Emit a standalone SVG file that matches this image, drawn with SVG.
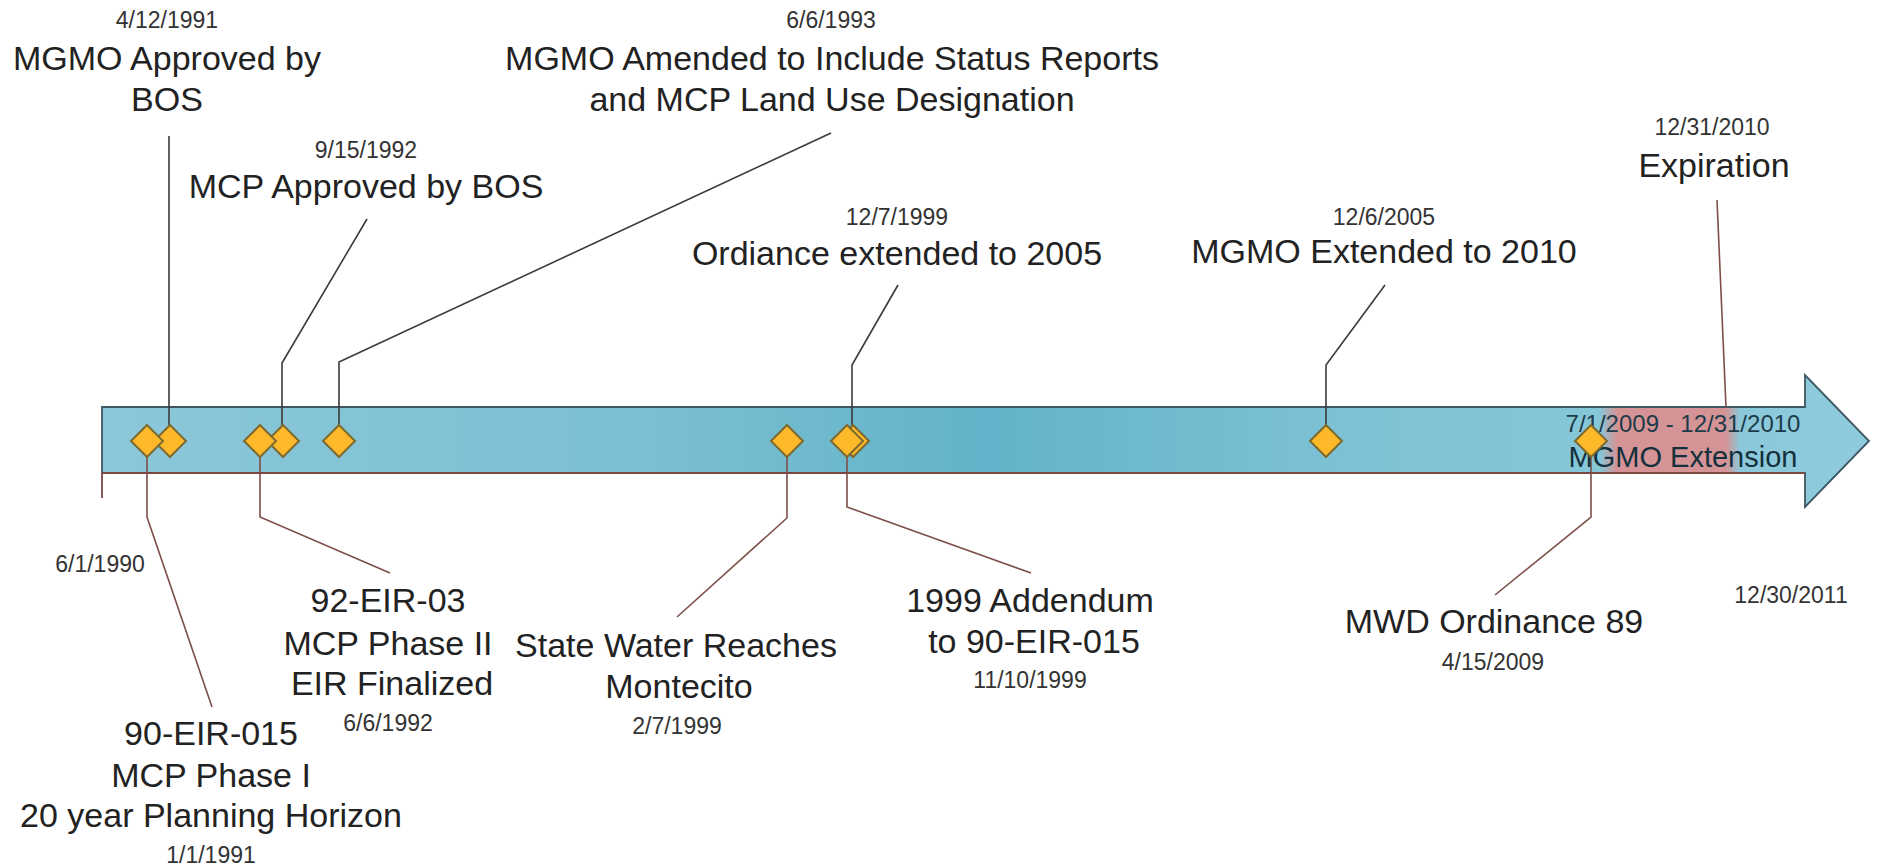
<svg xmlns="http://www.w3.org/2000/svg" width="1879" height="867" viewBox="0 0 1879 867">
<defs>
<linearGradient id="barGrad" gradientUnits="userSpaceOnUse" x1="102" y1="0" x2="1869" y2="0">
<stop offset="0" stop-color="#8bc8d9"/>
<stop offset="0.3" stop-color="#7cc0d3"/>
<stop offset="0.5" stop-color="#62b3c9"/>
<stop offset="0.7" stop-color="#7dc2d4"/>
<stop offset="1" stop-color="#8fcbdc"/>
</linearGradient>
<linearGradient id="redGrad" gradientUnits="userSpaceOnUse" x1="1600" y1="0" x2="1740" y2="0">
<stop offset="0" stop-color="#e28a8a" stop-opacity="0"/>
<stop offset="0.12" stop-color="#e28a8a" stop-opacity="0.85"/>
<stop offset="0.9" stop-color="#e28a8a" stop-opacity="0.85"/>
<stop offset="1" stop-color="#e28a8a" stop-opacity="0"/>
</linearGradient>
<style>
.lbl{font-family:"Liberation Sans",Arial,sans-serif;font-size:34px;fill:#222;text-anchor:middle}
.dt{font-family:"Liberation Sans",Arial,sans-serif;font-size:23px;fill:#333;text-anchor:middle}
.top{fill:none;stroke:#3a3a3a;stroke-width:1.6}
.bot{fill:none;stroke:#7d4f48;stroke-width:1.6}
.dia{fill:#fdb92a;stroke:#7d6a30;stroke-width:2}
</style>
</defs>
<rect width="1879" height="867" fill="#ffffff"/>

<g id="timeline-arrow">
<path d="M102,407 L1805,407 L1805,375 L1869,441 L1805,507 L1805,473 L102,473 Z" fill="url(#barGrad)" stroke="#3d5662" stroke-width="1.8"/>
<rect x="1600" y="408" width="140" height="64" fill="url(#redGrad)"/>
<line x1="102" y1="473" x2="1805" y2="473" stroke="#7a4a40" stroke-width="1.8"/>
<line x1="102" y1="473" x2="102" y2="498" stroke="#7a4a40" stroke-width="1.8"/>
</g>

<g id="connectors">
<polyline class="top" points="169,136 169,425"/>
<polyline class="top" points="282,425 282,363 367,219"/>
<polyline class="top" points="339,425 339,362 831,133"/>
<polyline class="top" points="852,425 852,365 898,285"/>
<polyline class="top" points="1326,425 1326,365 1385,285"/>
<polyline class="bot" points="1726,407 1717,200"/>
<polyline class="bot" points="147,457 147,517 212,707"/>
<polyline class="bot" points="260,457 260,517 390,573"/>
<polyline class="bot" points="787,457 787,518 677,617"/>
<polyline class="bot" points="847,457 847,507 1031,573"/>
<polyline class="bot" points="1591,457 1591,517 1495,595"/>
</g>

<g id="extension-period">
<text class="dt" x="1683" y="432" style="font-size:24px;fill:#1e3b4a">7/1/2009 - 12/31/2010</text>
<text class="lbl" x="1683" y="467" style="font-size:29px;fill:#14303c">MGMO Extension</text>
</g>

<g id="event-1991-04-12"><path class="dia" d="M170,425 L186,441 L170,457 L154,441 Z"/></g>
<g id="event-1991-01-01"><path class="dia" d="M147,425 L163,441 L147,457 L131,441 Z"/></g>
<g id="event-1992-09-15"><path class="dia" d="M283,425 L299,441 L283,457 L267,441 Z"/></g>
<g id="event-1992-06-06"><path class="dia" d="M260,425 L276,441 L260,457 L244,441 Z"/></g>
<g id="event-1993-06-06"><path class="dia" d="M339,425 L355,441 L339,457 L323,441 Z"/></g>
<g id="event-1999-02-07"><path class="dia" d="M787,425 L803,441 L787,457 L771,441 Z"/></g>
<g id="event-1999-12-07"><path class="dia" d="M853,425 L869,441 L853,457 L837,441 Z"/></g>
<g id="event-1999-11-10"><path class="dia" d="M847,425 L863,441 L847,457 L831,441 Z"/></g>
<g id="event-2005-12-06"><path class="dia" d="M1326,425 L1342,441 L1326,457 L1310,441 Z"/></g>
<g id="event-2009-04-15"><path class="dia" d="M1591,425 L1607,441 L1591,457 L1575,441 Z"/></g>

<g id="label-1991-04-12">
<text class="dt" x="167" y="28">4/12/1991</text>
<text class="lbl" x="167" y="70">MGMO Approved by</text>
<text class="lbl" x="167" y="111">BOS</text>
</g>
<g id="label-1992-09-15">
<text class="dt" x="366" y="158">9/15/1992</text>
<text class="lbl" x="366" y="198">MCP Approved by BOS</text>
</g>
<g id="label-1993-06-06">
<text class="dt" x="831" y="28">6/6/1993</text>
<text class="lbl" x="832" y="70">MGMO Amended to Include Status Reports</text>
<text class="lbl" x="832" y="111">and MCP Land Use Designation</text>
</g>
<g id="label-1999-12-07">
<text class="dt" x="897" y="225">12/7/1999</text>
<text class="lbl" x="897" y="265">Ordiance extended to 2005</text>
</g>
<g id="label-2005-12-06">
<text class="dt" x="1384" y="225">12/6/2005</text>
<text class="lbl" x="1384" y="263">MGMO Extended to 2010</text>
</g>
<g id="label-2010-12-31">
<text class="dt" x="1712" y="135">12/31/2010</text>
<text class="lbl" x="1714" y="177">Expiration</text>
</g>
<g id="label-start">
<text class="dt" x="100" y="572">6/1/1990</text>
</g>
<g id="label-end">
<text class="dt" x="1791" y="603">12/30/2011</text>
</g>
<g id="label-1991-01-01">
<text class="lbl" x="211" y="745">90-EIR-015</text>
<text class="lbl" x="211" y="787">MCP Phase I</text>
<text class="lbl" x="211" y="827">20 year Planning Horizon</text>
<text class="dt" x="211" y="863">1/1/1991</text>
</g>
<g id="label-1992-06-06">
<text class="lbl" x="388" y="612">92-EIR-03</text>
<text class="lbl" x="388" y="655">MCP Phase II</text>
<text class="lbl" x="392" y="695">EIR Finalized</text>
<text class="dt" x="388" y="731">6/6/1992</text>
</g>
<g id="label-1999-02-07">
<text class="lbl" x="676" y="657">State Water Reaches</text>
<text class="lbl" x="679" y="698">Montecito</text>
<text class="dt" x="677" y="734">2/7/1999</text>
</g>
<g id="label-1999-11-10">
<text class="lbl" x="1030" y="612">1999 Addendum</text>
<text class="lbl" x="1034" y="653">to 90-EIR-015</text>
<text class="dt" x="1030" y="688">11/10/1999</text>
</g>
<g id="label-2009-04-15">
<text class="lbl" x="1494" y="633">MWD Ordinance 89</text>
<text class="dt" x="1493" y="670">4/15/2009</text>
</g>
</svg>
